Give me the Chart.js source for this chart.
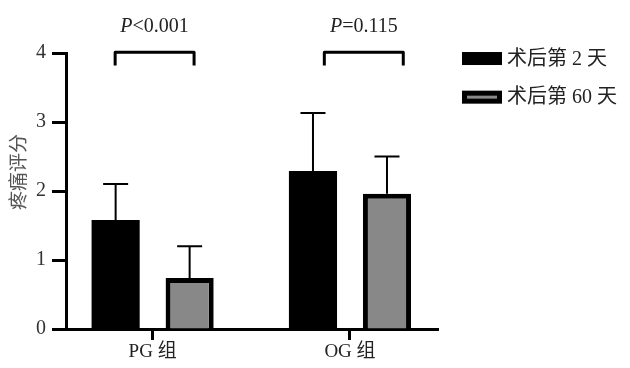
<!DOCTYPE html>
<html>
<head>
<meta charset="utf-8">
<title>疼痛评分</title>
<script src="https://cdn.jsdelivr.net/npm/chart.js"></script>
<style>
    body { margin: 0; background: #ffffff; }
</style>
</head>
<body>
<canvas id="myChart" width="630" height="368"></canvas>
<script>
// data
const groupLabels = ['PG 组', 'OG 组'];
const seriesNames = ['术后第 2 天', '术后第 60 天'];
const day2Means = [1.58, 2.29];
const day2Errors = [0.52, 0.84];
const day60Means = [0.74, 1.96];
const day60Errors = [0.46, 0.54];
const pValues = ['<0.001', '=0.115'];
const yTitle = '疼痛评分';

const serif = "'Liberation Serif', 'Times New Roman', 'Noto Sans CJK SC', serif";

// error bars (upper only)
const errorBars = {
    id: 'errorBars',
    afterDatasetsDraw(chart) {
        const ctx = chart.ctx;
        const y = chart.scales.y;
        ctx.save();
        ctx.strokeStyle = '#000';
        ctx.lineWidth = 2;
        chart.data.datasets.forEach((ds, d) => {
            chart.getDatasetMeta(d).data.forEach((bar, i) => {
                const top = y.getPixelForValue(ds.data[i].y + ds.errors[i]);
                ctx.beginPath();
                ctx.moveTo(bar.x, bar.y);
                ctx.lineTo(bar.x, top);
                ctx.moveTo(bar.x - 12.5, top);
                ctx.lineTo(bar.x + 12.5, top);
                ctx.stroke();
            });
        });
        ctx.restore();
    }
};

// significance brackets, legend and y title
const extras = {
    id: 'extras',
    afterDraw(chart) {
        const ctx = chart.ctx;
        const x = chart.scales.x;
        const y = chart.scales.y;
        const area = chart.chartArea;
        ctx.save();

        // brackets
        const spans = [[-0.19, 0.21], [-0.13, 0.27]];
        ctx.strokeStyle = '#000';
        ctx.lineWidth = 3;
        ctx.lineJoin = 'round';
        spans.forEach((s, i) => {
            const x1 = x.getPixelForValue(i + s[0]);
            const x2 = x.getPixelForValue(i + s[1]);
            const yt = y.getPixelForValue(4.01);
            const yb = y.getPixelForValue(3.82);
            ctx.beginPath();
            ctx.moveTo(x1, yb);
            ctx.lineTo(x1, yt);
            ctx.lineTo(x2, yt);
            ctx.lineTo(x2, yb);
            ctx.stroke();

            // P text
            ctx.fillStyle = '#222';
            ctx.textBaseline = 'alphabetic';
            ctx.font = 'italic 20px ' + serif;
            const wp = ctx.measureText('P').width;
            ctx.font = '20px ' + serif;
            const wr = ctx.measureText(pValues[i]).width;
            const cx = (x1 + x2) / 2;
            const left = cx - (wp + wr) / 2;
            const by = y.getPixelForValue(4.3);
            ctx.font = 'italic 20px ' + serif;
            ctx.textAlign = 'left';
            ctx.fillText('P', left, by);
            ctx.font = '20px ' + serif;
            ctx.fillText(pValues[i], left + wp, by);
        });

        // legend
        const lx = area.right + 24;
        const rows = [y.getPixelForValue(3.92), y.getPixelForValue(3.36)];
        chart.data.datasets.forEach((ds, d) => {
            const ry = rows[d];
            ctx.fillStyle = '#000';
            ctx.fillRect(lx, ry - 6.5, 40, 13);
            if (d === 1) {
                ctx.fillStyle = ds.backgroundColor;
                ctx.fillRect(lx + 5, ry - 1.5, 30, 3);
            }
            ctx.fillStyle = '#222';
            ctx.font = '20px ' + serif;
            ctx.textAlign = 'left';
            ctx.textBaseline = 'middle';
            ctx.fillText(ds.label, lx + 45, ry + 1);
        });

        // y title
        ctx.translate(20, 172);
        ctx.rotate(-Math.PI / 2);
        ctx.fillStyle = '#555';
        ctx.font = '19px ' + serif;
        ctx.textAlign = 'center';
        ctx.textBaseline = 'middle';
        ctx.fillText(yTitle, 0, 0);
        ctx.restore();
    }
};

const chartContext = document.getElementById('myChart').getContext('2d');
const chart = new Chart(chartContext, {
    type: 'bar',
    data: {
        datasets: [{
            label: seriesNames[0],
            data: day2Means.map((v, i) => ({ x: i, y: v })),
            errors: day2Errors,
            backgroundColor: '#000000',
            borderWidth: 0
        }, {
            label: seriesNames[1],
            data: day60Means.map((v, i) => ({ x: i, y: v })),
            errors: day60Errors,
            backgroundColor: '#888888',
            borderColor: '#000000',
            borderWidth: 5
        }]
    },
    options: {
        responsive: false,
        animation: false,
        devicePixelRatio: 1,
        categoryPercentage: 0.75,
        barPercentage: 0.65,
        layout: { padding: { left: 0, right: 192, top: 53, bottom: 0 } },
        plugins: {
            legend: { display: false },
            tooltip: { enabled: false }
        },
        scales: {
            x: {
                type: 'linear',
                min: -0.439,
                max: 1.446,
                offset: false,
                afterBuildTicks: s => { s.ticks = groupLabels.map((_, i) => ({ value: i })); },
                afterFit: s => { s.height = 39; },
                border: { display: true, color: '#000', width: 3 },
                grid: { offset: false, drawOnChartArea: false, color: '#000', tickLength: 11, tickWidth: 3 },
                ticks: {
                    callback: v => groupLabels[v],
                    color: '#222',
                    font: { family: serif, size: 19 },
                    padding: 1,
                    maxRotation: 0
                }
            },
            y: {
                min: 0,
                max: 4,
                afterFit: s => { s.width = 66; },
                border: { display: true, color: '#000', width: 3 },
                grid: { drawOnChartArea: false, color: '#000', tickLength: 14, tickWidth: 3 },
                ticks: {
                    stepSize: 1,
                    color: '#333',
                    font: { family: serif, size: 20 },
                    padding: 6
                }
            }
        }
    },
    plugins: [errorBars, extras]
});
</script>
</body>
</html>
